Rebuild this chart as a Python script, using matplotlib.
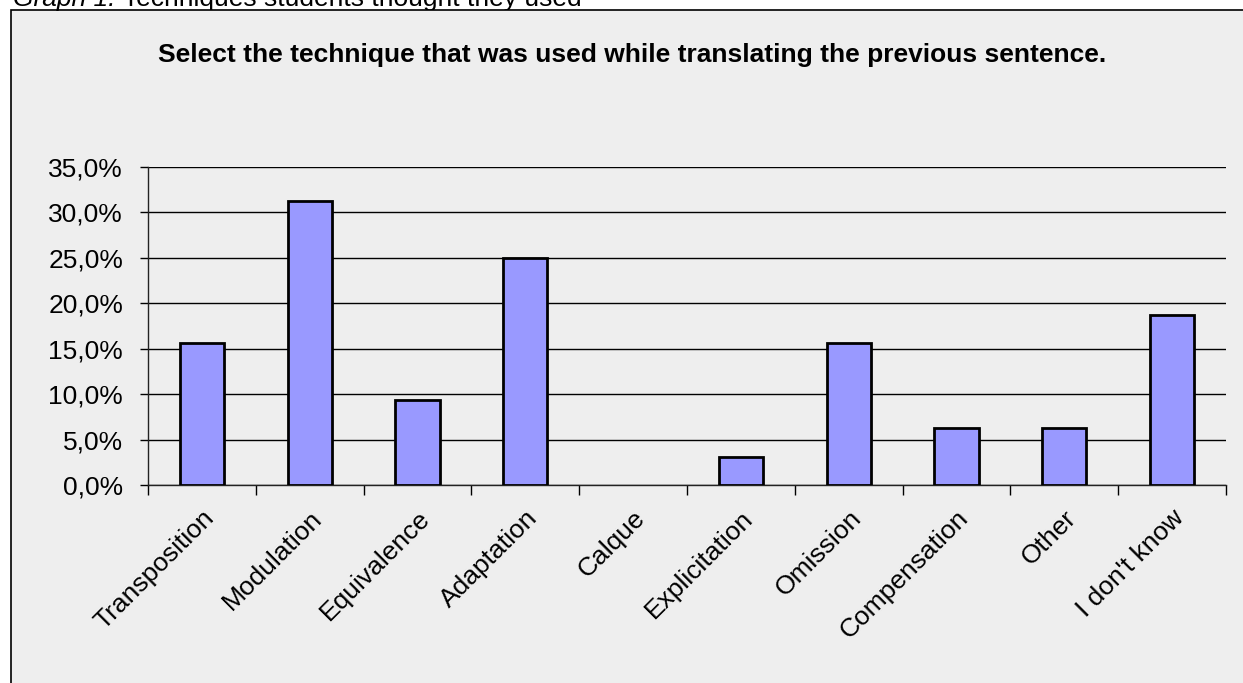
import matplotlib
matplotlib.use("Agg")
import matplotlib.pyplot as plt
from matplotlib.patches import Rectangle
from matplotlib.ticker import FuncFormatter, MultipleLocator
from matplotlib.transforms import ScaledTranslation
import numpy as np

# Survey answers (share of respondents, %)
TECHNIQUES = [
    "Transposition", "Modulation", "Equivalence", "Adaptation", "Calque",
    "Explicitation", "Omission", "Compensation", "Other", "I don't know",
]
SHARES = [15.625, 31.25, 9.375, 25.0, 0.0, 3.125, 15.625, 6.25, 6.25, 18.75]

TITLE = "Select the technique that was used while translating the previous sentence."

W, H = 1243, 683
plt.rcParams["font.family"] = ["Liberation Sans", "DejaVu Sans"]

fig = plt.figure(figsize=(W / 100, H / 100), dpi=100)
fig.patch.set_facecolor("white")

# grey chart frame with a black border on the top and left
fig.patches.append(Rectangle(
    (11 / W, -0.05), 1.1, (H - 10) / H + 0.05, transform=fig.transFigure,
    facecolor="#eeeeee", edgecolor="black", linewidth=1.2, zorder=0,
))

# caption above the chart, mostly clipped by the top edge
cap = fig.text(13 / W, 1 - 6 / H, "Graph 1.", fontsize=19, style="italic",
               ha="left", va="baseline")
plt.annotate(" Techniques students thought they used", xy=(1, 0),
             xycoords=cap, fontsize=19, ha="left", va="bottom",
             annotation_clip=False)

fig.text(632 / W, 1 - 55 / H, TITLE, fontsize=19, fontweight="bold",
         ha="center", va="center")

ax = fig.add_axes([148 / W, (H - 485) / H, (1226 - 148) / W, (485 - 167) / H],
                  zorder=2)
ax.set_facecolor("none")

x = np.arange(len(TECHNIQUES))
bars = ax.bar(x, SHARES, width=0.41, color="#9999ff", edgecolor="black",
              linewidth=2, zorder=3)
for bar, share in zip(bars, SHARES):
    if share == 0:
        bar.set_linewidth(0)

ax.set_xlim(-0.5, len(TECHNIQUES) - 0.5)
ax.set_ylim(0, 35)
ax.yaxis.set_major_locator(MultipleLocator(5))
ax.yaxis.set_major_formatter(FuncFormatter(lambda v, _: f"{v:.1f}%".replace(".", ",")))
ax.grid(axis="y", color="black", linewidth=1, zorder=1)

for side in ("top", "right"):
    ax.spines[side].set_visible(False)
for side in ("left", "bottom"):
    ax.spines[side].set_linewidth(1)
    ax.spines[side].set_color("#222222")

# category boundaries carry the ticks, labels sit at the centres
ax.set_xticks(np.arange(-0.5, len(TECHNIQUES)), minor=True)
ax.set_xticks(x)
ax.set_xticklabels(TECHNIQUES, rotation=45, ha="right", rotation_mode="anchor",
                   fontsize=19)
shift = ScaledTranslation(-9 / 100, 0, fig.dpi_scale_trans)
for lbl in ax.get_xticklabels():
    lbl.set_transform(lbl.get_transform() + shift)
ax.tick_params(axis="x", which="major", length=0, pad=15)
ax.tick_params(axis="x", which="minor", length=7, width=1, direction="out")
ax.tick_params(axis="y", length=6, width=1, labelsize=19, pad=12)

fig.savefig("out.png", dpi=100)
